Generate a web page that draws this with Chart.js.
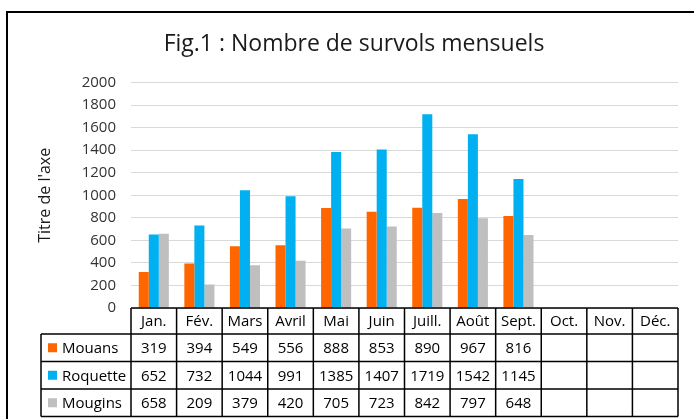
<!DOCTYPE html>
<html>
<head>
<meta charset="utf-8">
<script src="https://cdn.jsdelivr.net/npm/chart.js@4.4.0/dist/chart.umd.min.js"></script>
<style>
  html, body { margin: 0; padding: 0; background: #fff; }
  #wrap { position: relative; width: 694px; height: 419px; }
</style>
</head>
<body>
<div id="wrap"><canvas id="survols" width="694" height="419"></canvas></div>
<script>
// Data
const months   = ['Jan.', 'Fév.', 'Mars', 'Avril', 'Mai', 'Juin', 'Juill.', 'Août', 'Sept.', 'Oct.', 'Nov.', 'Déc.'];
const mouans   = [319, 394, 549, 556, 888, 853, 890, 967, 816, null, null, null];
const roquette = [652, 732, 1044, 991, 1385, 1407, 1719, 1542, 1145, null, null, null];
const mougins  = [658, 209, 379, 420, 705, 723, 842, 797, 648, null, null, null];
const yMin = 0, yMax = 2000, yStep = 200;

const FONT = "'Open Sans', 'Noto Sans', sans-serif";

// white background, frame and the data table under the bars
const dataTable = {
  id: 'dataTable',
  beforeDraw(chart) {
    const { ctx, width, height } = chart;
    ctx.save();
    ctx.fillStyle = '#fff';
    ctx.fillRect(0, 0, width, height);
    ctx.strokeStyle = '#000';
    ctx.lineWidth = 2;
    ctx.beginPath();
    ctx.moveTo(7, height + 5);
    ctx.lineTo(7, 12);
    ctx.lineTo(width + 5, 12);
    ctx.stroke();
    ctx.restore();
  },
  afterDatasetsDraw(chart) {
    const { ctx, chartArea: a, scales: { x } } = chart;
    const n = months.length;
    const colW = (a.right - a.left) / n;
    const headH = 26, rowH = 27.5, labelLeft = 41;
    const sets = chart.data.datasets;
    const bottom = a.bottom + headH + rowH * sets.length;

    ctx.save();
    ctx.fillStyle = '#fff';
    ctx.fillRect(labelLeft, a.bottom + headH, a.right - labelLeft, bottom - a.bottom - headH);

    // text
    ctx.font = '15px ' + FONT;
    ctx.fillStyle = '#000';
    ctx.textBaseline = 'middle';
    ctx.textAlign = 'center';
    months.forEach((m, i) => {
      ctx.fillText(m, x.getPixelForTick(i), a.bottom + headH / 2 + 1);
    });
    sets.forEach((ds, r) => {
      const yMid = a.bottom + headH + rowH * r + rowH / 2 + 1;
      ctx.fillStyle = ds.backgroundColor;
      ctx.fillRect(labelLeft + 7, yMid - 5.5, 9, 9);
      ctx.fillStyle = '#000';
      ctx.textAlign = 'left';
      ctx.fillText(ds.label, labelLeft + 21, yMid);
      ctx.textAlign = 'center';
      ds.data.forEach((v, i) => {
        if (v !== null) ctx.fillText(String(v), x.getPixelForTick(i), yMid);
      });
    });

    // grid lines of the table
    ctx.strokeStyle = '#000';
    ctx.lineWidth = 1.5;
    ctx.beginPath();
    ctx.moveTo(a.left, a.bottom);
    ctx.lineTo(a.right, a.bottom);
    for (let r = 0; r <= sets.length; r++) {
      const yy = a.bottom + headH + rowH * r;
      ctx.moveTo(labelLeft, yy);
      ctx.lineTo(a.right, yy);
    }
    for (let i = 0; i <= n; i++) {
      const xx = a.left + colW * i;
      ctx.moveTo(xx, a.bottom);
      ctx.lineTo(xx, bottom);
    }
    ctx.moveTo(labelLeft, a.bottom + headH);
    ctx.lineTo(labelLeft, bottom);
    ctx.stroke();
    ctx.restore();
  }
};

new Chart(document.getElementById('survols'), {
  type: 'bar',
  data: {
    labels: months,
    datasets: [
      { label: 'Mouans',   data: mouans,   backgroundColor: '#FF6600' },
      { label: 'Roquette', data: roquette, backgroundColor: '#00B0F0' },
      { label: 'Mougins',  data: mougins,  backgroundColor: '#BFBFBF' }
    ]
  },
  options: {
    responsive: false,
    animation: false,
    datasets: { bar: { categoryPercentage: 0.66, barPercentage: 1, borderWidth: 0 } },
    layout: { padding: { left: 30, right: 16, top: 0, bottom: 111 } },
    plugins: {
      legend: { display: false },
      tooltip: { enabled: false },
      title: {
        display: true,
        text: 'Fig.1 : Nombre de survols mensuels',
        color: '#1a1a1a',
        font: { family: FONT, size: 23, weight: 'normal' },
        padding: { top: 31, bottom: 24 }
      }
    },
    scales: {
      x: { display: false },
      y: {
        min: yMin,
        max: yMax,
        ticks: {
          stepSize: yStep,
          padding: 15,
          color: '#333',
          font: { family: FONT, size: 15 },
          callback: v => String(v)
        },
        grid: { color: '#D9D9D9', lineWidth: 1, drawTicks: false },
        border: { display: false },
        title: {
          display: true,
          text: "Titre de l'axe",
          color: '#1a1a1a',
          font: { family: FONT, size: 16 },
          padding: { top: 6 }
        },
        afterFit(s) { s.width = 101; }
      }
    }
  },
  plugins: [dataTable]
});
</script>
</body>
</html>
